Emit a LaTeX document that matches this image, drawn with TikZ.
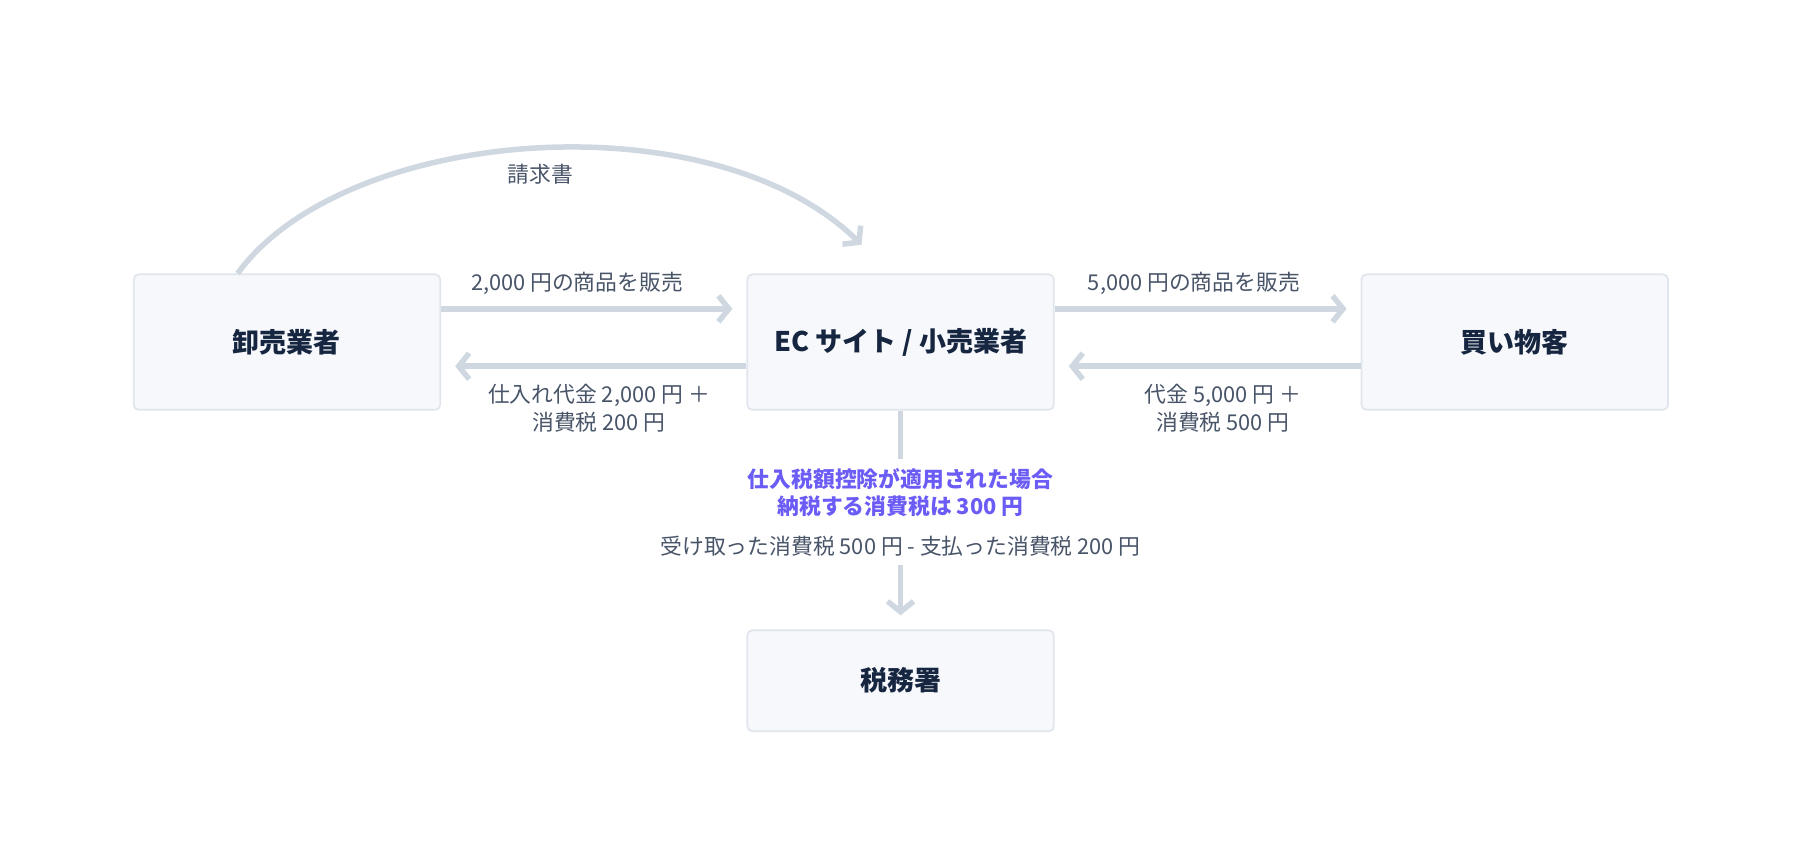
\documentclass[tikz,border=0pt]{standalone}
\usepackage{fontspec}
\setmainfont{Noto Sans CJK JP}
\usepackage{tikz}
\usetikzlibrary{calc}
\usetikzlibrary{arrows.meta}
\definecolor{Kastenfill}{RGB}{246,248,251}
\definecolor{Kastenrand}{RGB}{225,230,237}
\definecolor{Pfeilgrau}{RGB}{207,216,224}
\definecolor{Textgrau}{RGB}{72,84,104}
\definecolor{Dunkelblau}{RGB}{22,38,64}
\definecolor{Violett}{RGB}{108,92,246}

\begin{document}
\begin{tikzpicture}[x=1.148pt, y=-1.148pt,
	Kasten/.style={draw=Kastenrand, line width=1.8pt, fill=Kastenfill, rounded corners=5pt, minimum width=306.5pt, minimum height=135.5pt, text=Dunkelblau, font=\fontsize{27}{32}\selectfont\bfseries},
	Pfeil/.style={draw=Pfeilgrau, line width=5.5pt, arrows = -{Straight Barb[length=10.5pt, width=26pt]}, shorten >=14pt},
	Linie/.style={draw=Pfeilgrau, line width=5.5pt},
	Text/.style={text=Textgrau, font=\fontsize{21.8}{28.7}\selectfont, align=center, inner sep=2pt}]
				\useasboundingbox (0,0) rectangle (1568,742.2);
				\node[Kasten] (gross) at (250,298) {卸売業者};
				\node[Kasten] (ec) at (784.5,298) {EC サイト / 小売業者};
				\node[Kasten] (kunde) at (1319.5,298) {買い物客};
				\node[Kasten, minimum height=101pt] (amt) at (784.5,593) {税務署};
				\node[Text, text=Violett, font=\fontsize{21.8}{27.6}\selectfont\bfseries] (hinweis) at (784.5,429) {仕入税額控除が適用された場合\\納税する消費税は 300 円};
				\node[Text] (rechnung) at (784.5,476) {受け取った消費税 500 円 - 支払った消費税 200 円};
				\coordinate (k1) at ($(gross.north)+(-43,0)$);
				\coordinate (k2) at ($(ec.north)+(-34,-25)$);
				\draw[Pfeil, shorten >=0pt] (k1) .. controls (300,110) and (620,85) .. (k2);
				\node[Text] (beleg) at (471,152) {請求書};
				\draw[Pfeil] ($(gross.east)+(0,-29)$) to node[Text, above, pos=0.445, yshift=9pt]{2,000 円の商品を販売} ($(ec.west)+(0,-29)$);
				\draw[Pfeil] ($(ec.west)+(0,21)$) to node[Text, below, pos=0.483, yshift=-13pt]{仕入れ代金 2,000 円 ＋\\消費税 200 円} ($(gross.east)+(0,21)$);
				\draw[Pfeil] ($(ec.east)+(0,-29)$) to node[Text, above, pos=0.455, yshift=9pt]{5,000 円の商品を販売} ($(kunde.west)+(0,-29)$);
				\draw[Pfeil] ($(kunde.west)+(0,21)$) to node[Text, below, pos=0.45, yshift=-13pt]{代金 5,000 円 ＋\\消費税 500 円} ($(ec.east)+(0,21)$);
				\draw[Linie] (ec.south) -- ($(hinweis.center)+(0,-29)$);
				\draw[Pfeil] ($(rechnung.center)+(0,16)$) -- (amt.north);
			\end{tikzpicture}
\end{document}
